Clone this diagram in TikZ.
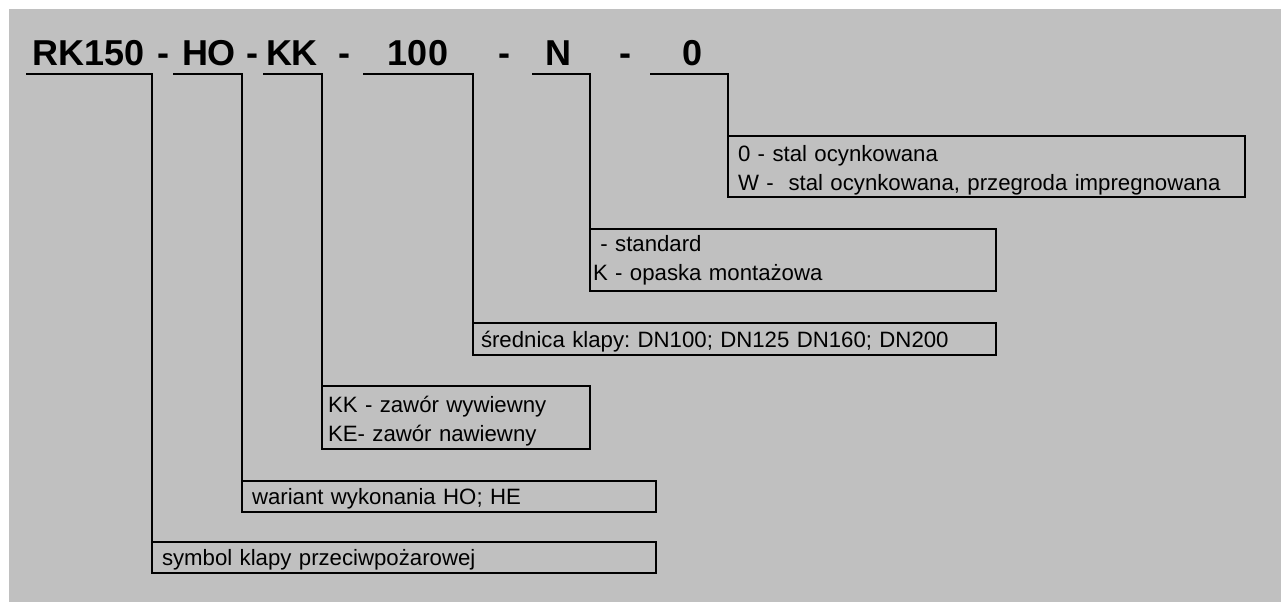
\documentclass[tikz,border=0pt]{standalone}
\usepackage{fontspec}
\setmainfont{Liberation Sans}
\usepackage{xcolor}
\definecolor{panel}{HTML}{C0C0C0}
\frenchspacing
\newcommand{\lowstart}{\rule{0pt}{12pt}}

\begin{document}
\begin{tikzpicture}[x=0.5pt, y=0.5pt,
  code/.style={anchor=base, inner sep=0pt, font=\fontsize{18}{20}\selectfont\bfseries},
  box/.style={draw, line width=1pt, anchor=north west, inner xsep=5pt, inner ysep=0pt,
    outer sep=0pt, align=left, font=\fontsize{11.1}{14.5}\selectfont},
  onerow/.style={box, text height=10.5pt, text depth=2.5pt},
  tworow/.style={box},
  lead/.style={line width=1pt}]
  \useasboundingbox (0,0) rectangle (1281,-602);
  \fill[panel] (9,-9) rectangle (1281,-602);
  % type code
  \node[code] (rk) at (89,-65) {RK150};
  \node[code] (ho) at (209,-65) {HO};
  \node[code] (kk) at (292,-65) {KK};
  \node[code] (dn) at (418,-65) {100};
  \node[code] (nn) at (558,-65) {N};
  \node[code] (zz) at (693,-65) {0};
  \foreach \x [count=\i] in {163,252,344,504,625}
    \node[code] (d\i) at (\x,-65) {-};
  % description boxes
  \node[tworow, text width=248.5pt, minimum height=30.5pt] (mat) at (728,-136)
    {\lowstart0 - stal ocynkowana\\W -\ \ stal ocynkowana, przegroda impregnowana};
  \node[tworow, inner xsep=1.5pt, text width=200pt, minimum height=31pt] (opt) at (590,-229)
    {\ - standard\\K - opaska montażowa};
  \node[onerow, inner xsep=4pt, text width=253.5pt, minimum height=16pt] (dia) at (473,-323)
    {średnica klapy: DN100; DN125 DN160; DN200};
  \node[tworow, inner xsep=3pt, text width=128pt, minimum height=31.5pt] (valve) at (322,-386)
    {\lowstart KK - zawór wywiewny\\KE- zawór nawiewny};
  \node[onerow, text width=197pt, minimum height=15.5pt] (var) at (242,-481)
    {wariant wykonania HO; HE};
  \node[onerow, text width=242pt, minimum height=15.5pt] (sym) at (152,-542)
    {symbol klapy przeciwpożarowej};
  % brackets under the code
  \coordinate (t1) at (26,-74);
  \coordinate (t2) at (173,-74);
  \coordinate (t3) at (263,-74);
  \coordinate (t4) at (363,-74);
  \coordinate (t5) at (532,-74);
  \coordinate (t6) at (650,-74);
  \draw[lead] (t1) -| (sym.north west);
  \draw[lead] (t2) -| (var.north west);
  \draw[lead] (t3) -| (valve.north west);
  \draw[lead] (t4) -| (dia.north west);
  \draw[lead] (t5) -| (opt.north west);
  \draw[lead] (t6) -| (mat.north west);
\end{tikzpicture}
\end{document}
